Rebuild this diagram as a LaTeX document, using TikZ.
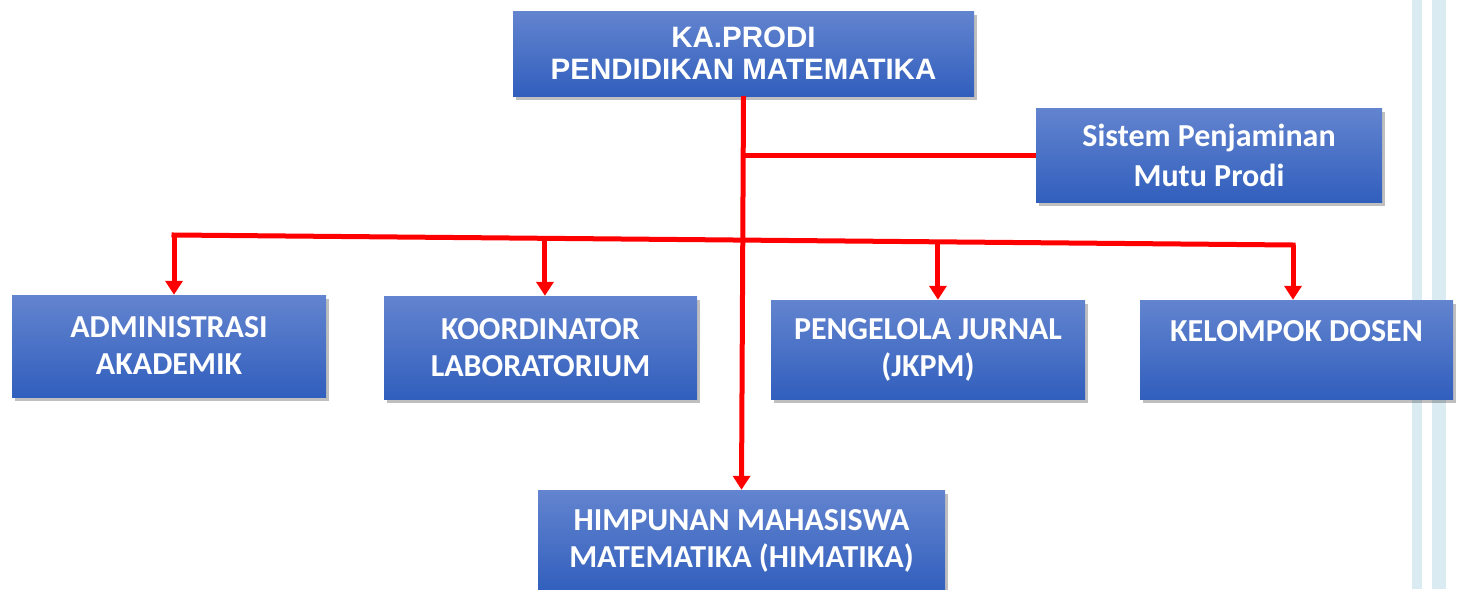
\documentclass[tikz,border=0pt]{standalone}
\usepackage{fontspec}
\setmainfont{Carlito}
\newfontfamily\arialfont{Liberation Sans}
\usetikzlibrary{arrows.meta,shadows,calc}
\definecolor{boxtop}{RGB}{99,132,207}
\definecolor{boxbot}{RGB}{49,95,189}
\definecolor{strip}{RGB}{218,236,242}
\begin{document}
\begin{tikzpicture}[x=1pt,y=-1pt,
  box/.style={draw=none, top color=boxtop, bottom color=boxbot,
    drop shadow={shadow xshift=3pt, shadow yshift=-4pt, fill=black, opacity=0.25},
    text=white, align=center, inner sep=0pt,
    font=\bfseries\fontsize{32}{37}\selectfont},
  redline/.style={draw=red, line width=5pt},
  redarrow/.style={redline, -{Triangle[width=17pt,length=14pt]}}]
\useasboundingbox (0,0) rectangle (1458,589);
\fill[strip] (1412,0) rectangle (1422,589);
\fill[strip] (1432,0) rectangle (1446,589);
\node[box, minimum width=461pt, minimum height=85pt,
  font=\arialfont\bfseries\fontsize{29.5}{32}\selectfont] (top) at (743.5,53.5)
  {KA.PRODI\\PENDIDIKAN MATEMATIKA};
\node[box, minimum width=346pt, minimum height=94pt, font=\bfseries\fontsize{32}{40}\selectfont] (sys) at (1209,155)
  {\raisebox{-3pt}{Sistem Penjaminan}\\\raisebox{-3pt}{Mutu Prodi}};
\node[box, minimum width=314pt, minimum height=102pt] (adm) at (169,346)
  {ADMINISTRASI\\AKADEMIK};
\node[box, minimum width=313pt, minimum height=103pt] (kor) at (540.5,347.5)
  {KOORDINATOR\\LABORATORIUM};
\node[box, minimum width=314pt, minimum height=99pt] (jur) at (928,349.5)
  {PENGELOLA JURNAL\\(JKPM)};
\node[box, minimum width=313pt, minimum height=99pt] (kel) at (1296.5,349.5)
  {KELOMPOK DOSEN\\[-12pt]\strut};
\node[box, minimum width=407pt, minimum height=102pt] (him) at (741.5,541)
  {HIMPUNAN MAHASISWA\\MATEMATIKA (HIMATIKA)};
\coordinate (L) at (174,235);
\coordinate (R) at (1293,245);
\coordinate (k) at ($(L)!0.3315!(R)$);
\coordinate (j) at ($(L)!0.6827!(R)$);
\draw[redline, line cap=rect] (L) -- (R);
\draw[redarrow] (L) -- (L |- adm.north);
\draw[redarrow] (k) -- (k |- kor.north);
\draw[redarrow] (j) -- (j |- jur.north);
\draw[redarrow] (R) -- (R |- kel.north);
\draw[redline] (top.south |- sys.west) -- (sys.west);
\draw[redarrow] (top.south) -- (him.north);
\end{tikzpicture}
\end{document}
